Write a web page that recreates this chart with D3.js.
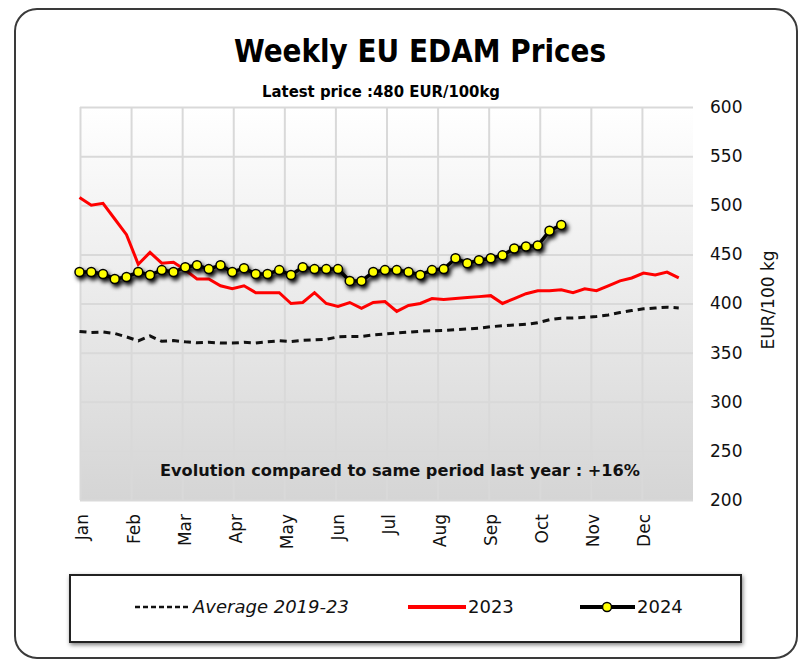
<!DOCTYPE html>
<html>
<head>
<meta charset="utf-8">
<script src="https://cdnjs.cloudflare.com/ajax/libs/d3/7.8.5/d3.min.js"></script>
<style>
  body { margin: 0; background: #fff; }
  svg { display: block; }
  .tick text { fill: #111; }
</style>
</head>
<body>
<svg id="chart"></svg>
<script>
// month labels on the x axis
var months = ['Jan', 'Feb', 'Mar', 'Apr', 'May', 'Jun', 'Jul', 'Aug', 'Sep', 'Oct', 'Nov', 'Dec'];
var yTicks = [200, 250, 300, 350, 400, 450, 500, 550, 600];

// weekly prices, EUR/100 kg (week 1 .. 52)
var avg2019_23 = [371.5, 370.5, 371, 369.5, 366, 362, 367, 361.5, 362.3, 361, 360, 360.5, 359.7,
  359.7, 360.5, 359.8, 361, 362, 361.3, 362.5, 363, 363.5, 366, 366.5, 366.5, 368, 369, 370,
  370.8, 371.8, 372.3, 372.6, 373.3, 374, 374.9, 376.4, 377.3, 378.1, 378.8, 380.5, 383.5, 385,
  385.3, 386, 386.8, 388.3, 390.8, 392.8, 394.6, 395.4, 396.3, 395.5];
var prices2023 = [508, 500, 502, 486, 470, 440, 452, 441, 442, 434, 425, 425, 418, 415, 418, 411,
  411, 411, 400, 401, 411, 400, 397, 401, 395, 401, 402, 392, 398, 400, 405, 404, 405, 406, 407,
  408, 400, 405, 410, 413, 413, 414, 411, 415, 413, 418, 423, 426, 431, 429, 432, 426];
var prices2024 = [432, 432, 430, 425, 427, 432, 429, 434, 432, 437, 439, 435, 439, 432, 436, 430,
  430, 434, 429, 437, 435, 435, 435, 423, 423, 432, 434, 434, 432, 429, 434, 435, 446, 441, 444,
  446, 449, 456, 458, 459, 474, 480];

var W = 804, H = 661;
var plot = { left: 80, right: 693, top: 107, bottom: 500 };

var svg = d3.select('#chart').attr('width', W).attr('height', H);
var defs = svg.append('defs');

var grad = defs.append('linearGradient')
  .attr('id', 'plotBg')
  .attr('x1', 0).attr('y1', 0).attr('x2', 0).attr('y2', 1);
grad.append('stop').attr('offset', '0%').attr('stop-color', '#ffffff');
grad.append('stop').attr('offset', '100%').attr('stop-color', '#d5d5d5');

var shadow = defs.append('filter').attr('id', 'markShadow')
  .attr('x', '-20%').attr('y', '-30%').attr('width', '140%').attr('height', '180%');
shadow.append('feDropShadow')
  .attr('dx', 2).attr('dy', 3).attr('stdDeviation', 2)
  .attr('flood-color', '#000').attr('flood-opacity', 1);

var boxShadow = defs.append('filter').attr('id', 'boxShadow')
  .attr('x', '-5%').attr('y', '-20%').attr('width', '110%').attr('height', '150%');
boxShadow.append('feDropShadow')
  .attr('dx', 1).attr('dy', 2).attr('stdDeviation', 2)
  .attr('flood-color', '#000').attr('flood-opacity', 0.5);

// outer card
svg.append('rect')
  .attr('x', 15).attr('y', 9)
  .attr('width', 782).attr('height', 649)
  .attr('rx', 22)
  .attr('fill', '#fff')
  .attr('stroke', '#3a3a3a')
  .attr('stroke-width', 2);

// scales
var x = d3.scaleLinear().domain([0, 52]).range([79.5, 690.5]);
var xm = d3.scaleLinear().domain([0, 12]).range([plot.left, plot.right]);
var y = d3.scaleLinear().domain([200, 600]).range([plot.bottom, plot.top]);

svg.append('rect')
  .attr('x', plot.left).attr('y', plot.top)
  .attr('width', plot.right - plot.left).attr('height', plot.bottom - plot.top)
  .attr('fill', 'url(#plotBg)');

// grid
var gy = svg.append('g')
  .attr('transform', 'translate(' + plot.left + ',0)')
  .call(d3.axisLeft(y).tickValues(yTicks).tickSize(-(plot.right - plot.left)).tickFormat(''));
var gx = svg.append('g')
  .attr('transform', 'translate(0,' + plot.bottom + ')')
  .call(d3.axisBottom(xm).tickValues(d3.range(0, 12)).tickSize(-(plot.bottom - plot.top)).tickFormat(''));
[gy, gx].forEach(function(g) {
  g.select('.domain').remove();
  g.selectAll('line').attr('stroke', '#d9d9d9').attr('stroke-width', 2);
});

// right axis
var ya = svg.append('g')
  .attr('transform', 'translate(' + plot.right + ',0)')
  .call(d3.axisRight(y).tickValues(yTicks).tickSize(0).tickPadding(17));
ya.select('.domain').remove();
ya.selectAll('text')
  .style('font-family', '"DejaVu Sans", sans-serif')
  .style('font-size', '17px');

svg.append('text')
  .attr('transform', 'translate(768,300) rotate(-90)')
  .attr('text-anchor', 'middle')
  .attr('dy', '0.35em')
  .style('font-family', '"DejaVu Sans", sans-serif')
  .style('font-size', '17px')
  .attr('fill', '#111')
  .text('EUR/100 kg');

// month labels
var xa = svg.append('g')
  .attr('transform', 'translate(0,' + plot.bottom + ')')
  .call(d3.axisBottom(xm).tickValues(d3.range(0, 12)).tickSize(0).tickFormat(function(i) { return months[i]; }));
xa.select('.domain').remove();
xa.selectAll('text')
  .attr('transform', 'rotate(-90)')
  .attr('x', -14).attr('y', 2)
  .attr('dy', '0.35em')
  .style('text-anchor', 'end')
  .style('font-family', '"DejaVu Sans", sans-serif')
  .style('font-size', '17px');

// series
var line = d3.line()
  .x(function(d, i) { return x(i); })
  .y(function(d) { return y(d); });

svg.append('path')
  .datum(avg2019_23)
  .attr('d', line)
  .attr('fill', 'none')
  .attr('stroke', '#111')
  .attr('stroke-width', 3)
  .attr('stroke-dasharray', '7,5');

svg.append('path')
  .datum(prices2023)
  .attr('d', line)
  .attr('fill', 'none')
  .attr('stroke', '#ff0000')
  .attr('stroke-width', 3);

var g24 = svg.append('g').attr('filter', 'url(#markShadow)');
g24.append('path')
  .datum(prices2024)
  .attr('d', line)
  .attr('fill', 'none')
  .attr('stroke', '#000')
  .attr('stroke-width', 3.5);
g24.selectAll('circle')
  .data(prices2024)
  .enter()
  .append('circle')
  .attr('cx', function(d, i) { return x(i); })
  .attr('cy', function(d) { return y(d); })
  .attr('r', 4.5)
  .attr('fill', '#ffff00')
  .attr('stroke', '#000')
  .attr('stroke-width', 1.5);

// titles
svg.append('text')
  .attr('x', 420).attr('y', 62)
  .attr('text-anchor', 'middle')
  .attr('textLength', 372).attr('lengthAdjust', 'spacingAndGlyphs')
  .style('font-family', '"DejaVu Sans Condensed", "DejaVu Sans", sans-serif')
  .style('font-weight', 'bold')
  .style('font-size', '32px')
  .attr('fill', '#000')
  .text('Weekly EU EDAM Prices');

svg.append('text')
  .attr('x', 381).attr('y', 97)
  .attr('text-anchor', 'middle')
  .attr('textLength', 238).attr('lengthAdjust', 'spacingAndGlyphs')
  .style('font-family', '"DejaVu Sans Condensed", "DejaVu Sans", sans-serif')
  .style('font-weight', 'bold')
  .style('font-size', '15px')
  .attr('fill', '#000')
  .text('Latest price :480 EUR/100kg');

svg.append('text')
  .attr('x', 400).attr('y', 476)
  .attr('text-anchor', 'middle')
  .attr('textLength', 480).attr('lengthAdjust', 'spacingAndGlyphs')
  .style('font-family', '"DejaVu Sans", sans-serif')
  .style('font-weight', 'bold')
  .style('font-size', '15px')
  .attr('fill', '#111')
  .text('Evolution compared to same period last year : +16%');

// legend
var lg = svg.append('g');
lg.append('rect')
  .attr('x', 70).attr('y', 575)
  .attr('width', 671).attr('height', 67)
  .attr('fill', '#fff')
  .attr('stroke', '#222')
  .attr('stroke-width', 2)
  .attr('filter', 'url(#boxShadow)');

var ly = 607;
lg.append('line')
  .attr('x1', 135).attr('x2', 190).attr('y1', ly).attr('y2', ly)
  .attr('stroke', '#111').attr('stroke-width', 2.5).attr('stroke-dasharray', '5,3');
lg.append('text')
  .attr('x', 193).attr('y', ly).attr('dy', '0.35em')
  .style('font-family', '"DejaVu Sans", sans-serif')
  .style('font-style', 'italic')
  .style('font-size', '18px')
  .attr('fill', '#111')
  .text('Average 2019-23');

lg.append('line')
  .attr('x1', 408).attr('x2', 466).attr('y1', ly).attr('y2', ly)
  .attr('stroke', '#ff0000').attr('stroke-width', 4);
lg.append('text')
  .attr('x', 468).attr('y', ly).attr('dy', '0.35em')
  .style('font-family', '"DejaVu Sans", sans-serif')
  .style('font-size', '18px')
  .attr('fill', '#111')
  .text('2023');

lg.append('line')
  .attr('x1', 580).attr('x2', 635).attr('y1', ly).attr('y2', ly)
  .attr('stroke', '#000').attr('stroke-width', 4);
lg.append('circle')
  .attr('cx', 607).attr('cy', ly).attr('r', 4.5)
  .attr('fill', '#ffff00').attr('stroke', '#000').attr('stroke-width', 1.5);
lg.append('text')
  .attr('x', 637).attr('y', ly).attr('dy', '0.35em')
  .style('font-family', '"DejaVu Sans", sans-serif')
  .style('font-size', '18px')
  .attr('fill', '#111')
  .text('2024');
</script>
</body>
</html>
